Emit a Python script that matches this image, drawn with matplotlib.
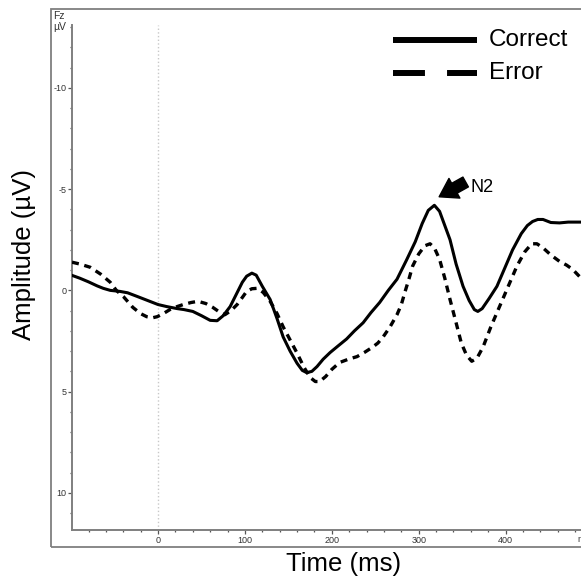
import matplotlib
matplotlib.use("Agg")
import matplotlib.pyplot as plt
from matplotlib.lines import Line2D
from matplotlib.patches import Rectangle

# ERP at Fz (time in ms, amplitude in µV)
time_correct = [-99, -90, -80, -70, -63, -55, -44, -35, -24, -12, 0, 10, 22,
                30, 40, 50, 60, 68, 75, 83, 90, 97, 102, 108, 113, 120, 129,
                137, 144, 152, 160, 166, 171, 177, 183, 190, 198, 207, 217,
                226, 236, 245, 255, 265, 275, 286, 296, 304, 311, 318, 324,
                330, 336, 343, 351, 358, 364, 368, 373, 381, 390, 399, 408,
                418, 425, 431, 437, 443, 452, 462, 472, 485]
amp_correct = [-0.74, -0.6, -0.42, -0.22, -0.1, 0.0, 0.05, 0.12, 0.3, 0.5,
               0.7, 0.8, 0.9, 0.95, 1.04, 1.25, 1.48, 1.5, 1.25, 0.8, 0.2,
               -0.4, -0.7, -0.85, -0.75, -0.2, 0.45, 1.4, 2.3, 3.0, 3.6,
               3.95, 4.06, 4.0, 3.76, 3.4, 3.07, 2.75, 2.4, 2.0, 1.6, 1.1,
               0.6, 0.0, -0.55, -1.5, -2.4, -3.3, -3.95, -4.2, -3.9, -3.2,
               -2.5, -1.3, -0.2, 0.5, 0.95, 1.04, 0.9, 0.4, -0.2, -1.1, -2.0,
               -2.8, -3.2, -3.4, -3.5, -3.5, -3.35, -3.33, -3.37, -3.37]

time_error = [-99, -90, -78, -66, -55, -48, -40, -29, -20, -13, -6, -1, 6, 14,
              22, 29, 38, 46, 55, 63, 70, 77, 84, 91, 97, 102, 108, 114, 121,
              129, 137, 144, 152, 160, 168, 175, 181, 186, 193, 200, 209, 219,
              229, 238, 247, 253, 259, 267, 275, 280, 284, 289, 293, 300, 307,
              313, 318, 324, 330, 336, 343, 349, 355, 361, 367, 374, 383, 393,
              403, 413, 422, 430, 436, 443, 452, 462, 470, 477, 486]
amp_error = [-1.39, -1.3, -1.14, -0.8, -0.4, 0.0, 0.3, 0.84, 1.15, 1.3, 1.35,
             1.3, 1.15, 0.94, 0.8, 0.7, 0.6, 0.54, 0.65, 0.84, 1.05, 1.2, 1.0,
             0.7, 0.35, 0.05, -0.08, -0.1, 0.1, 0.54, 1.15, 1.8, 2.45, 3.1,
             3.8, 4.3, 4.5, 4.5, 4.25, 3.9, 3.56, 3.4, 3.27, 3.05, 2.8, 2.6,
             2.3, 1.8, 1.2, 0.7, 0.1, -0.6, -1.2, -1.8, -2.2, -2.3, -2.1,
             -1.53, -0.6, 0.45, 1.6, 2.6, 3.2, 3.5, 3.35, 2.8, 1.8, 0.8,
             -0.2, -1.2, -1.9, -2.3, -2.3, -2.1, -1.75, -1.43, -1.25, -1.04,
             -0.64]

series_labels = ["Correct", "Error"]
y_ticks = [-10, -5, 0, 5, 10]
x_ticks = [0, 100, 200, 300, 400]

W, H = 581, 578
plt.rcParams["font.family"] = ["Liberation Sans", "DejaVu Sans"]
fig = plt.figure(figsize=(W / 100, H / 100), dpi=100)

# axes placed in pixels: left spine x=72, top y=25, bottom y=530
x0, x1 = -99, 500
px_per_ms = 0.869
left, top, bottom = 72, 25, 530
ax = fig.add_axes([left / W, 1 - bottom / H,
                   (x1 - x0) * px_per_ms / W, (bottom - top) / H])
ax.set_xlim(x0, x1)
ax.set_ylim(11.83, -13.1)

grey = "#7f7f7f"
# outer frame
fig.add_artist(Rectangle((51 / W, 1 - 547 / H), 1.0, (547 - 9) / H,
                         transform=fig.transFigure, fill=False,
                         edgecolor=grey, linewidth=1.3))

ax.axvline(0, color="#c8c8c8", linestyle=":", linewidth=1.0, zorder=1)

ax.plot(time_correct, amp_correct, color="black", lw=2.2, zorder=3,
        solid_joinstyle="round")
ax.plot(time_error, amp_error, color="black", lw=2.4,
        linestyle=(0, (2.1, 1.7)), zorder=3)

for side in ["top", "right"]:
    ax.spines[side].set_visible(False)
for side in ["left", "bottom"]:
    ax.spines[side].set_color(grey)
    ax.spines[side].set_linewidth(1.4)

ax.set_yticks(y_ticks)
ax.set_yticklabels([str(v) for v in y_ticks])
ax.set_yticks(range(-13, 12), minor=True)
ax.set_xticks(x_ticks)
ax.set_xticklabels([str(v) for v in x_ticks])
ax.set_xticks(range(-80, 500, 20), minor=True)
ax.tick_params(which="major", length=3.2, width=0.9, color="#555555",
               labelsize=6.5, labelcolor="#333333", pad=1)
ax.tick_params(which="minor", length=1.6, width=0.9, color="#555555")

fig.text(577 / W, 1 - 540 / H, "ms", fontsize=6.5, color="#333333",
         ha="left", va="center")
fig.text(53 / W, 1 - 16 / H, "Fz", fontsize=7.5, color="#333333",
         ha="left", va="center")
fig.text(53 / W, 1 - 27 / H, "µV", fontsize=7.5, color="#333333",
         ha="left", va="center")

fig.text(344 / W, 1 - 564 / H, "Time (ms)", fontsize=18.5,
         ha="center", va="center")
fig.text(24 / W, 1 - 254 / H, "Amplitude (µV)", fontsize=18.5,
         rotation=90, ha="center", va="center")

# legend drawn by hand to match the wide handles
for i, (label, ls) in enumerate(zip(series_labels,
                                    ["-", (0, (5.35, 3.7))])):
    yy = 1 - (40 + 33 * i) / H
    fig.add_artist(Line2D([393 / W, 477 / W], [yy, yy], color="black",
                          lw=4.3, linestyle=ls, solid_capstyle="butt",
                          transform=fig.transFigure))
    fig.text(489 / W, yy, label, fontsize=17.5, ha="left", va="center")

# N2 marker
ax.annotate("", xy=(323.5, -4.62), xytext=(354, -5.35),
            arrowprops=dict(arrowstyle="simple,head_length=0.7,"
                            "head_width=0.9,tail_width=0.45",
                            color="black", mutation_scale=18,
                            shrinkA=0, shrinkB=0))
ax.text(359, -5.1, "N2", fontsize=13, ha="left", va="center")

fig.savefig("out.png", dpi=100)
